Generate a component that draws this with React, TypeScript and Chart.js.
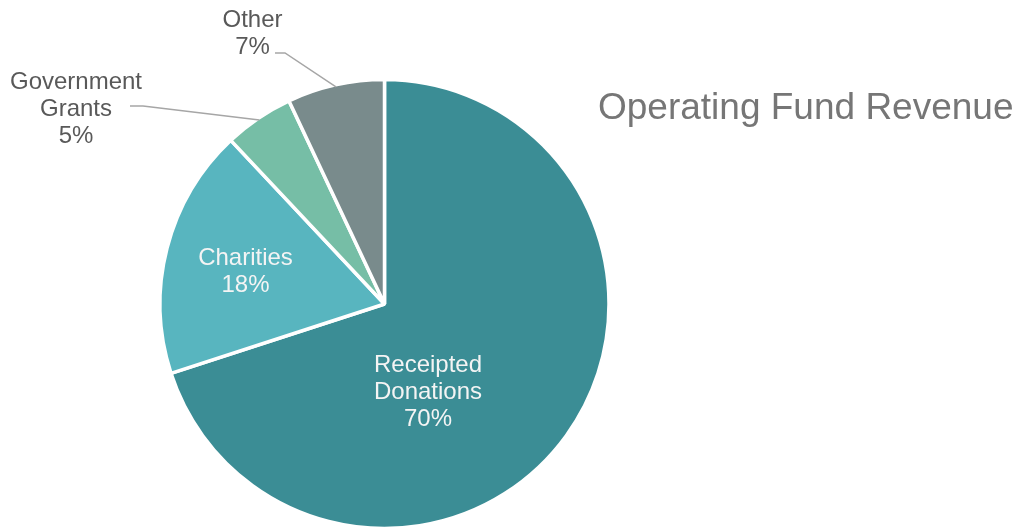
import React, { useEffect, useRef } from "react";
import { Chart, registerables } from "chart.js";

Chart.register(...registerables);

const categories = ["Receipted Donations", "Charities", "Government Grants", "Other"];
const values = [70, 18, 5, 7];
const labelLines = [["Receipted", "Donations", "70%"], ["Charities", "18%"], ["Government", "Grants", "5%"], ["Other", "7%"]];
const colors = ["#3B8D95", "#58B5BF", "#76BEA6", "#798B8C"];
const title = "Operating Fund Revenue";

// label layout: offsets (px) of first baseline relative to pie centre, inside/outside, leader elbow
const labelLayout = [
  { dx: 43.5, dy: 68, color: "#F4F4F4", leader: null as null | number[] },
  { dx: -139, dy: -39, color: "#F4F4F4", leader: null as null | number[] },
  { dx: -308.5, dy: -215, color: "#595959", leader: [-254.5, -198, -241.5, -198] },
  { dx: -132, dy: -277, color: "#595959", leader: [-109.5, -251, -99.5, -251] },
];

const labelPlugin = {
  id: "pieLabels",
  afterDraw(chart: any) {
    const ctx = chart.ctx;
    const meta = chart.getDatasetMeta(0);
    ctx.save();
    meta.data.forEach((arc: any, i: number) => {
      const { x, y, outerRadius, startAngle, endAngle } = arc.getProps(["x", "y", "outerRadius", "startAngle", "endAngle"], true);
      const lay = labelLayout[i];
      if (lay.leader) {
        const mid = (startAngle + endAngle) / 2;
        const ex = x + Math.cos(mid) * (outerRadius - 2);
        const ey = y + Math.sin(mid) * (outerRadius - 2);
        ctx.strokeStyle = "#A6A6A6";
        ctx.lineWidth = 1.5;
        ctx.beginPath();
        ctx.moveTo(x + lay.leader[0], y + lay.leader[1]);
        ctx.lineTo(x + lay.leader[2], y + lay.leader[3]);
        ctx.lineTo(ex, ey);
        ctx.stroke();
      }
      ctx.fillStyle = lay.color;
      ctx.font = "24px 'Liberation Sans', Arial, sans-serif";
      ctx.textAlign = "center";
      ctx.textBaseline = "alphabetic";
      labelLines[i].forEach((t, k) => {
        ctx.fillText(t, x + lay.dx, y + lay.dy + k * 27);
      });
    });
    ctx.fillStyle = "#767676";
    ctx.font = "37px 'Liberation Sans', Arial, sans-serif";
    ctx.textAlign = "left";
    ctx.textBaseline = "alphabetic";
    ctx.fillText(title, 598, 119);
    ctx.restore();
  },
};

export default function App() {
  const ref = useRef<HTMLCanvasElement | null>(null);
  useEffect(() => {
    document.body.style.margin = "0";
    const chart = new Chart(ref.current as HTMLCanvasElement, {
      type: "pie",
      data: {
        labels: categories,
        datasets: [
          {
            data: values,
            backgroundColor: colors,
            borderColor: "#FFFFFF",
            borderWidth: 3.5,
          },
        ],
      },
      options: {
        animation: false,
        responsive: false,
        maintainAspectRatio: false,
        radius: 224.5,
        layout: { padding: { left: 0, right: 249, top: 79, bottom: 0 } },
        plugins: {
          legend: { display: false },
          tooltip: { enabled: false },
          title: { display: false },
        },
      } as any,
      plugins: [labelPlugin],
    });
    return () => chart.destroy();
  }, []);
  return (
    <div style={{ width: 1018, height: 529, background: "#fff" }}>
      <canvas ref={ref} width={1018} height={529} style={{ display: "block" }} />
    </div>
  );
}
